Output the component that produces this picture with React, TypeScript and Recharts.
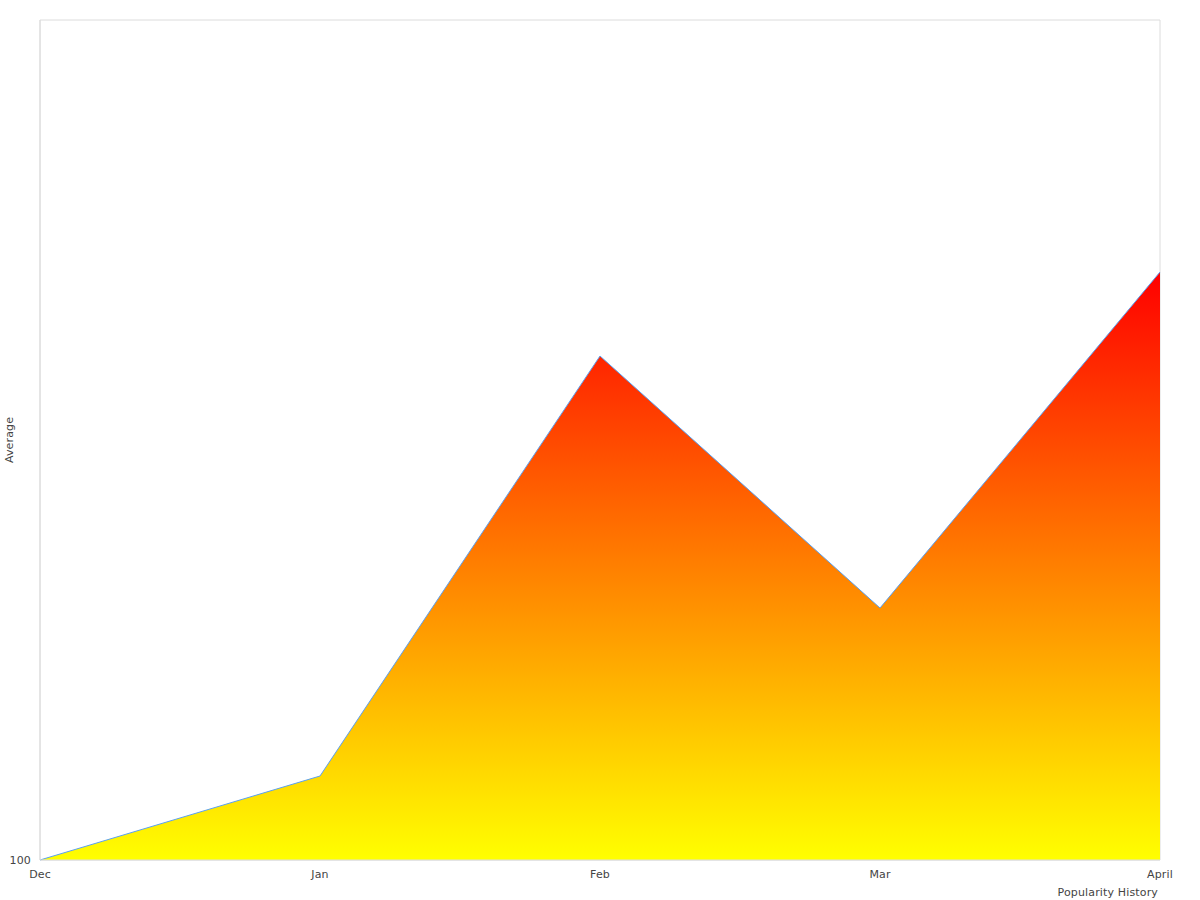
import React from "react";
import { AreaChart, Area, XAxis, YAxis, ReferenceArea } from "recharts";

const months = ["Dec", "Jan", "Feb", "Mar", "April"];
const averages = [100, 110, 160, 130, 170];
const yTicks = [100];

const data = months.map((m, i) => ({ month: m, average: averages[i] }));

const font = { fontFamily: "DejaVu Sans", fontSize: 11, fill: "#444", letterSpacing: 0.15 };

const App = () => {
  return (
    <div style={{ position: "absolute", left: 0, top: 0, background: "#fff" }}>
      <AreaChart width={1200} height={900} data={data} margin={{ top: 20, right: 40, bottom: 2, left: 0 }}>
        <defs>
          <linearGradient id="popFill" x1="0" y1="0" x2="0" y2="1">
            <stop offset="0%" stopColor="#ff0000" />
            <stop offset="100%" stopColor="#ffff00" />
          </linearGradient>
        </defs>
        <ReferenceArea y1={100} y2={200} fill="none" stroke="#dcdcdc" strokeWidth={1} />
        <XAxis
          dataKey="month"
          tickLine={false}
          axisLine={{ stroke: "#dcdcdc" }}
          tick={{ ...font, dy: 2 }}
          height={38}
          label={{ value: "Popularity History", position: "insideBottomRight", offset: 2, style: { ...font } }}
        />
        <YAxis
          domain={[100, 200]}
          ticks={yTicks}
          tickLine={false}
          axisLine={{ stroke: "#dcdcdc" }}
          tick={{ ...font, dx: -1 }}
          width={40}
          label={{ value: "Average", angle: -90, position: "insideLeft", offset: 9, style: { ...font, textAnchor: "middle" } }}
        />
        <Area
          type="linear"
          dataKey="average"
          stroke="#5aa0f0"
          strokeWidth={1}
          fill="url(#popFill)"
          fillOpacity={1}
          isAnimationActive={false}
        />
      </AreaChart>
    </div>
  );
};

export default App;
